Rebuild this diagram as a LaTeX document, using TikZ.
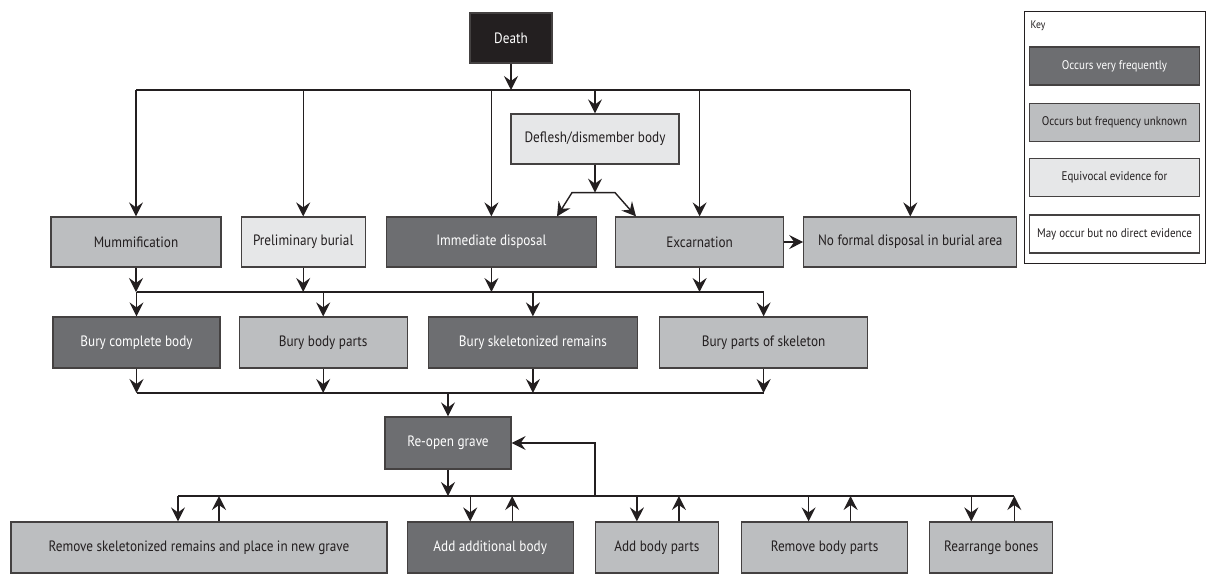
\documentclass[tikz,border=0pt]{standalone}
\usepackage{fontspec}
\setmainfont[FakeStretch=0.88]{PT Sans}
\usetikzlibrary{
		calc,
		positioning,
		arrows.meta
	}
\tikzset{
		>={Stealth[length=14pt,width=14pt,inset=5pt]}
	}
\definecolor{nearblack}{RGB}{35, 31, 32}
\definecolor{darkgrey}{RGB}{109, 110, 113}
\definecolor{midgrey}{RGB}{188, 190, 192}
\definecolor{lightgrey}{RGB}{230, 231, 232}

\begin{document}
\begin{tikzpicture}
		[x=1pt, y=-1pt,
		line width=1.4pt, draw=nearblack,
		card/.style= {draw=nearblack!85, line width=1.2pt, inner sep=0pt, minimum height=50pt, font=\fontsize{15}{17}\selectfont},
		often box/.style= {card, fill=darkgrey, text=white},
		unk box/.style= {card, fill=midgrey, text=nearblack},
		equiv box/.style= {card, fill=lightgrey, text=nearblack},
		maybe box/.style= {card, fill=white, text=nearblack},
		key box/.style= {minimum width=170pt, minimum height=38pt, font=\fontsize{12.5}{14}\selectfont}
		]

		\useasboundingbox (0,0) rectangle (1210,574);

		\node [often box, fill=nearblack, minimum width=82pt] (Death) at (511,38) {Death};
		\node [equiv box, minimum width=168pt] (Deflesh) at (595,139) {Deflesh/dismember body};

		\node [unk box, minimum width=170pt] (Mumm) at (136,242) {Mummification};
		\node [equiv box, minimum width=124pt] (Prelim) [right=19pt of Mumm] {Preliminary burial};
		\node [often box, minimum width=210pt] (Immed) [right=20pt of Prelim] {Immediate disposal};
		\node [unk box, minimum width=168pt] (Excarn) [right=18pt of Immed] {Excarnation};
		\node [unk box, minimum width=213pt] (NoFormal) [right=19pt of Excarn] {No formal disposal in burial area};

		\node [often box, minimum width=167pt, minimum height=51pt] (BuryAll) at (136.5,342.5) {Bury complete body};
		\node [unk box, minimum width=168pt, minimum height=51pt] (BuryParts) [right=18pt of BuryAll] {Bury body parts};
		\node [often box, minimum width=209pt, minimum height=51pt] (BurySkel) [right=20pt of BuryParts] {Bury skeletonized remains};
		\node [unk box, minimum width=208pt, minimum height=51pt] (BuryBones) [right=21pt of BurySkel] {Bury parts of skeleton};

		\node [often box, minimum width=126pt, minimum height=52pt] (Reopen) at (448,443) {Re-open grave};

		\node [unk box, minimum width=376pt, minimum height=51pt] (RemSkel) at (199,547.5) {Remove skeletonized remains and place in new grave};
		\node [often box, minimum width=166pt, minimum height=51pt] (AddBody) [right=19pt of RemSkel] {Add additional body};
		\node [unk box, minimum width=123pt, minimum height=51pt] (AddParts) [right=21pt of AddBody] {Add body parts};
		\node [unk box, minimum width=166pt, minimum height=51pt] (RemParts) [right=22pt of AddParts] {Remove body parts};
		\node [unk box, minimum width=123pt, minimum height=51pt] (Rearr) [right=21pt of RemParts] {Rearrange bones};

		% key
		\node [draw=nearblack, line width=1pt, minimum width=181pt, minimum height=252pt, anchor=north west] (KeyFrame) at (1024,11) {};
		\node [anchor=west, inner sep=0pt, text=nearblack, font=\fontsize{11}{12}\selectfont] (KeyTitle) at (1030,26) {Key};
		\node [often box, key box] (KeyOften) at (1114.5,66) {Occurs very frequently};
		\node [unk box, key box] (KeyUnk) at (1114.5,122.5) {Occurs but frequency unknown};
		\node [equiv box, key box] (KeyEquiv) at (1114.5,177.5) {Equivocal evidence for};
		\node [maybe box, key box] (KeyMaybe) at (1114.5,234) {May occur but no direct evidence};

		% death to the first choices
		\coordinate (TopBus) at (511,90);
		\draw [->] (Death) -- (TopBus);
		\draw (TopBus -| Mumm) -- (TopBus -| NoFormal);
		\foreach \n in {Mumm, Prelim, Immed, Deflesh, Excarn, NoFormal}
			\draw [->] (TopBus -| \n) -- (\n);

		\coordinate (Fork) at ($(Deflesh.south)+(0,28)$);
		\draw [->] (Deflesh) -- (Fork);
		\draw [->] (Fork) -- ++(-23,0) -- ([xshift=-40pt]Immed.north east);
		\draw [->] (Fork) -- ++(20,0) -- ([xshift=21pt]Excarn.north west);
		\draw [->] (Excarn) -- (NoFormal);

		% burial
		\coordinate (MidBus) at (136,292);
		\foreach \n in {Mumm, Prelim, Immed, Excarn}
			\draw [->] (\n) -- (\n |- MidBus);
		\draw (MidBus -| BuryAll) -- (MidBus -| BuryBones);
		\foreach \n in {BuryAll, BuryParts, BurySkel, BuryBones}
			\draw [->] (MidBus -| \n) -- (\n);

		\coordinate (LowBus) at (136,393);
		\foreach \n in {BuryAll, BuryParts, BurySkel, BuryBones}
			\draw [->] (\n) -- (\n |- LowBus);
		\draw (LowBus -| BuryAll) -- (LowBus -| BuryBones);
		\draw [->] (LowBus -| Reopen) -- (Reopen);

		% after re-opening
		\coordinate (BotBus) at (448,496);
		\draw [->] (Reopen) -- (Reopen |- BotBus);
		\draw ([xshift=-21pt]RemSkel.north |- BotBus) -- ([xshift=23pt]Rearr.north |- BotBus);
		\draw [->] (AddParts.west |- BotBus) -- (AddParts.west |- Reopen) -- (Reopen);
		\foreach \n/\dn/\up in {RemSkel/-21/20, AddBody/-20/22, AddParts/-20/22, RemParts/-16/26, Rearr/-20/23}{
			\draw [->] ([xshift=\dn pt]\n.north |- BotBus) -- ([xshift=\dn pt]\n.north);
			\draw [->] ([xshift=\up pt]\n.north) -- ([xshift=\up pt]\n.north |- BotBus);
		}

	\end{tikzpicture}
\end{document}
